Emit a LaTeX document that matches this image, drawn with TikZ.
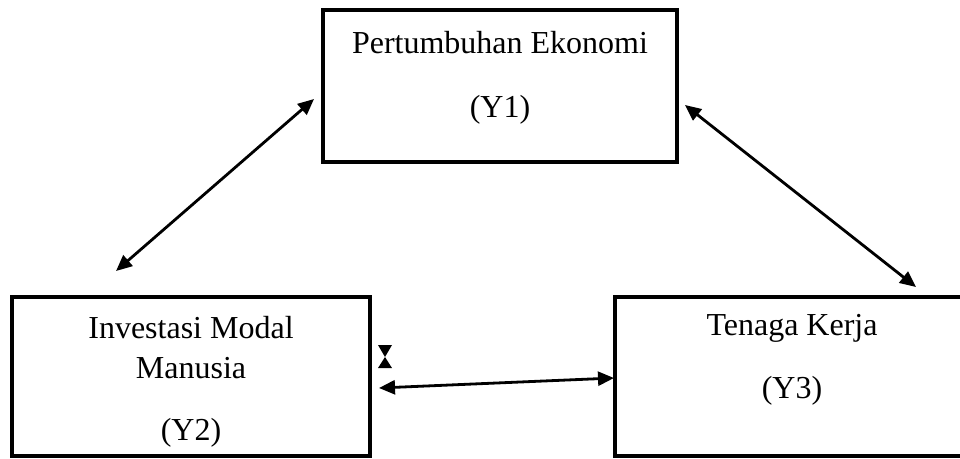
\documentclass[tikz,border=0pt]{standalone}
\usepackage{fontspec}
\setmainfont{Liberation Serif}
\usetikzlibrary{arrows.meta}
\begin{document}
\begin{tikzpicture}[x=0.75pt,y=-0.75pt,
  box/.style={draw=black,line width=2.3pt,rectangle,inner sep=0pt},
  lbl/.style={anchor=base,inner sep=0pt,font=\fontsize{24pt}{29pt}\selectfont},
  conn/.style={line width=2.1pt,{Triangle[length=12pt,width=10.5pt]}-{Triangle[length=12pt,width=10.5pt]}},
  tipfill/.style={fill=black}]
\useasboundingbox (0,0) rectangle (960,458);
\clip (0,0) rectangle (960,458);
% boxes
\node[box,minimum width=354*0.75pt,minimum height=152*0.75pt] (y1) at (500,86) {};
\node[box,minimum width=358*0.75pt,minimum height=159*0.75pt] (y2) at (191,376.5) {};
\node[box,minimum width=360*0.75pt,minimum height=159*0.75pt] (y3) at (795,376.5) {};
% texts
\node[lbl] (t1a) at (500,53) {Pertumbuhan Ekonomi};
\node[lbl] (t1b) at (500,117) {(Y1)};
\node[lbl] (t2a) at (191,338) {Investasi Modal};
\node[lbl] (t2b) at (191,378) {Manusia};
\node[lbl] (t2c) at (191,440) {(Y2)};
\node[lbl] (t3a) at (792,335) {Tenaga Kerja};
\node[lbl] (t3b) at (792,398) {(Y3)};
% connector ends
\coordinate (a1) at (314,99);
\coordinate (a2) at (116,271);
\coordinate (b1) at (685,105);
\coordinate (b2) at (916,287);
\coordinate (c1) at (379,388);
\coordinate (c2) at (614,378);
\coordinate (h) at (385,357);
\draw[conn] (a1) -- (a2);
\draw[conn] (b1) -- (b2);
\draw[conn] (c1) -- (c2);
% small degenerate double head
\fill[tipfill] ([xshift=-7*0.75pt,yshift=12*0.75pt]h) -- ([xshift=7*0.75pt,yshift=12*0.75pt]h) -- (h) -- cycle;
\fill[tipfill] ([xshift=-7*0.75pt,yshift=-11*0.75pt]h) -- ([xshift=7*0.75pt,yshift=-11*0.75pt]h) -- (h) -- cycle;
\end{tikzpicture}
\end{document}
